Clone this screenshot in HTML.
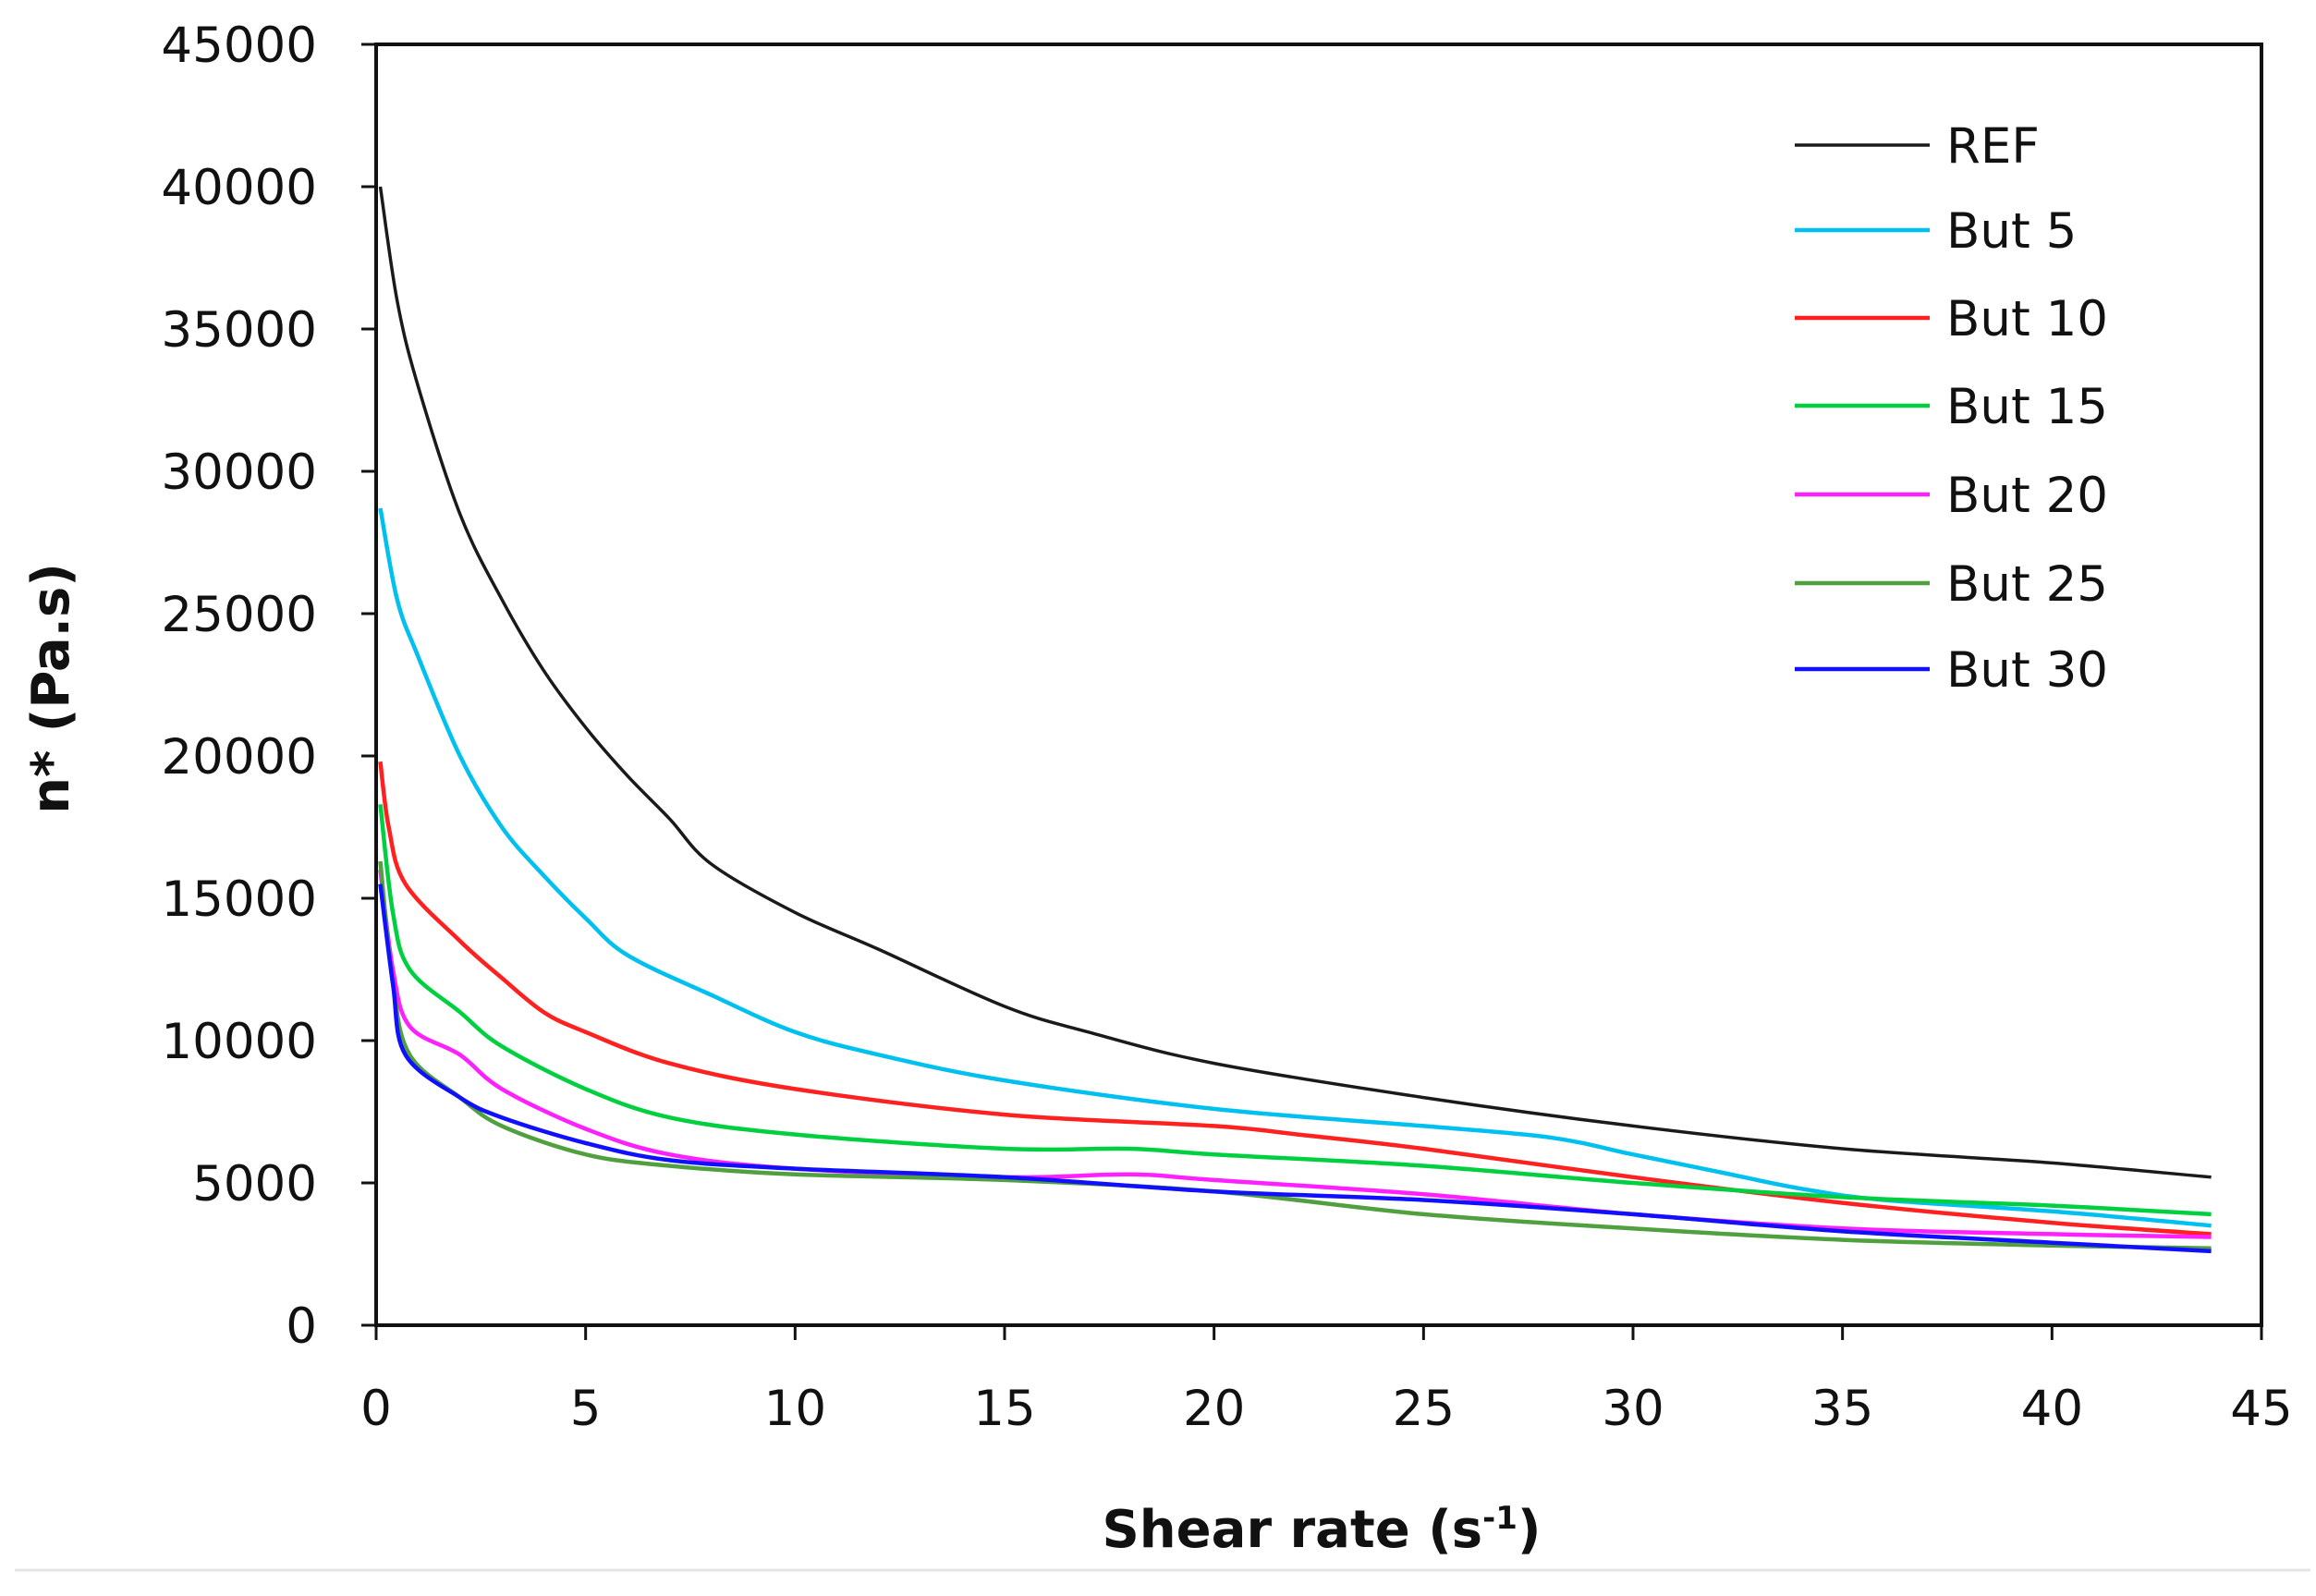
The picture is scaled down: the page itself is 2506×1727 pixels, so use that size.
<!DOCTYPE html>
<html><head><meta charset="utf-8"><style>
html,body{margin:0;padding:0;background:#fff;width:2506px;height:1727px;overflow:hidden}
svg text{font-family:"DejaVu Sans","Liberation Sans",sans-serif;fill:#111}
</style></head><body>
<svg id="chart" width="2506" height="1727" xmlns="http://www.w3.org/2000/svg">
<line x1="16" y1="1699" x2="2500" y2="1699" stroke="#e4e4e4" stroke-width="3"/>
<g id="plot"></g>
<text x="1430" y="1674" text-anchor="middle" font-size="56" font-weight="bold">Shear rate (s<tspan font-size="34" dy="-20">-1</tspan><tspan dy="20">)</tspan></text>
<text transform="translate(74,745) rotate(-90)" text-anchor="middle" font-size="56" font-weight="bold">n* (Pa.s)</text>
</svg>
<script>
const xTicks=[0,5,10,15,20,25,30,35,40,45];
const yTicks=[0,5000,10000,15000,20000,25000,30000,35000,40000,45000];
const seriesNames=["REF","But 5","But 10","But 15","But 20","But 25","But 30"];
const seriesColors=["#1a1a1a","#00c0f0","#ff2020","#00d040","#ff20ff","#50a040","#1010ff"];
const refX=[0.1,0.5,1,2,3,4,5,6,7,8,10,12,15,17,20,25,30,35,40,43.8];
const refY=[40000,36000,33000,28500,25500,23000,21000,19300,17800,16200,14500,13200,11200,10300,9200,8000,7000,6200,5700,5200];
const but5X=[0.1,0.5,1,2,3,4,5,6,8,10,12,15,20,25,28,30,32,34,36,40,43.8];
const but5Y=[28700,25500,23500,20000,17500,15800,14300,13000,11600,10300,9500,8600,7600,7000,6600,6000,5400,4800,4400,4000,3500];
const but10X=[0.1,0.3,0.7,2,3,4,5,7,10,15,20,22,25,30,35,40,43.8];
const but10Y=[19800,17500,15500,13500,12200,11000,10300,9200,8300,7400,7000,6700,6200,5200,4300,3600,3200];
const but15X=[0.1,0.4,0.8,2,3,5,7,10,15,18,20,25,30,35,40,43.8];
const but15Y=[18300,14500,12500,11000,9800,8300,7300,6700,6200,6200,6000,5600,5000,4500,4200,3900];
const but20X=[0.1,0.4,0.8,2,3,5,7,10,15,18,20,25,30,35,40,43.8];
const but20Y=[16000,12500,10500,9500,8300,6900,6000,5500,5200,5300,5100,4600,3900,3400,3200,3100];
const but25X=[0.1,0.4,0.8,2,3,5,7,10,15,20,25,30,35,40,43.8];
const but25Y=[16300,12000,9500,8000,7000,6000,5600,5300,5100,4700,3900,3400,3000,2800,2700];
const but30X=[0.1,0.4,0.7,2,3,5,7,10,15,20,25,30,35,40,43.8];
const but30Y=[15500,12000,9500,8000,7300,6400,5800,5500,5200,4700,4400,3900,3300,2900,2600];
const allX=[refX,but5X,but10X,but15X,but20X,but25X,but30X];
const allY=[refY,but5Y,but10Y,but15Y,but20Y,but25Y,but30Y];

const L=407,R=2447,T=48,B=1434;
const xs=v=>L+(v-0)/(45-0)*(R-L);
const ys=v=>B-(v-0)/(45000-0)*(B-T);
const NS="http://www.w3.org/2000/svg";
const g=document.getElementById('plot');
function mk(tag,attrs){const e=document.createElementNS(NS,tag);for(const k in attrs)e.setAttribute(k,attrs[k]);g.appendChild(e);return e;}
function smooth(P){
  let d='M'+P[0][0].toFixed(1)+' '+P[0][1].toFixed(1);
  for(let i=0;i<P.length-1;i++){
    const p0=P[Math.max(0,i-1)],p1=P[i],p2=P[i+1],p3=P[Math.min(P.length-1,i+2)];
    const t=1/6;
    const c1=[p1[0]+(p2[0]-p0[0])*t,p1[1]+(p2[1]-p0[1])*t];
    const c2=[p2[0]-(p3[0]-p1[0])*t,p2[1]-(p3[1]-p1[1])*t];
    d+=' C'+c1.map(v=>v.toFixed(1)).join(' ')+' '+c2.map(v=>v.toFixed(1)).join(' ')+' '+p2[0].toFixed(1)+' '+p2[1].toFixed(1);
  }
  return d;
}

const frame=mk('rect',{x:L,y:T,width:R-L,height:B-T,fill:'none',stroke:'#111','stroke-width':4});



yTicks.forEach(v=>{
  const t=mk('line',{x1:L-16,x2:L,y1:ys(v),y2:ys(v),stroke:'#111','stroke-width':3});
  
  
  const lb=mk('text',{x:343,y:ys(v)+19,'text-anchor':'end','font-size':53});
  lb.textContent=v;
  
  
});
xTicks.forEach(v=>{
  const t=mk('line',{x1:xs(v),x2:xs(v),y1:B,y2:B+16,stroke:'#111','stroke-width':3});
  
  
  const lb=mk('text',{x:xs(v),y:1542,'text-anchor':'middle','font-size':53});
  lb.textContent=v;
  
  
});

const legY=[157,249,344,439,535,631,724];
allX.forEach((X,i)=>{
  const Y=allY[i];
  const P=X.map((x,j)=>[xs(x),ys(Y[j])]);
  const p=mk('path',{d:smooth(P),fill:'none',stroke:seriesColors[i],'stroke-width':i===0?3.5:4.5,'stroke-linejoin':'round'});
  
  
  const ll=mk('line',{x1:1942,x2:2088,y1:legY[i],y2:legY[i],stroke:seriesColors[i],'stroke-width':i===0?3.5:4.5});
  
  
  const lt=mk('text',{x:2106,y:legY[i]+19,'font-size':53});
  lt.textContent=seriesNames[i];
  
  
});
</script>
</body></html>
